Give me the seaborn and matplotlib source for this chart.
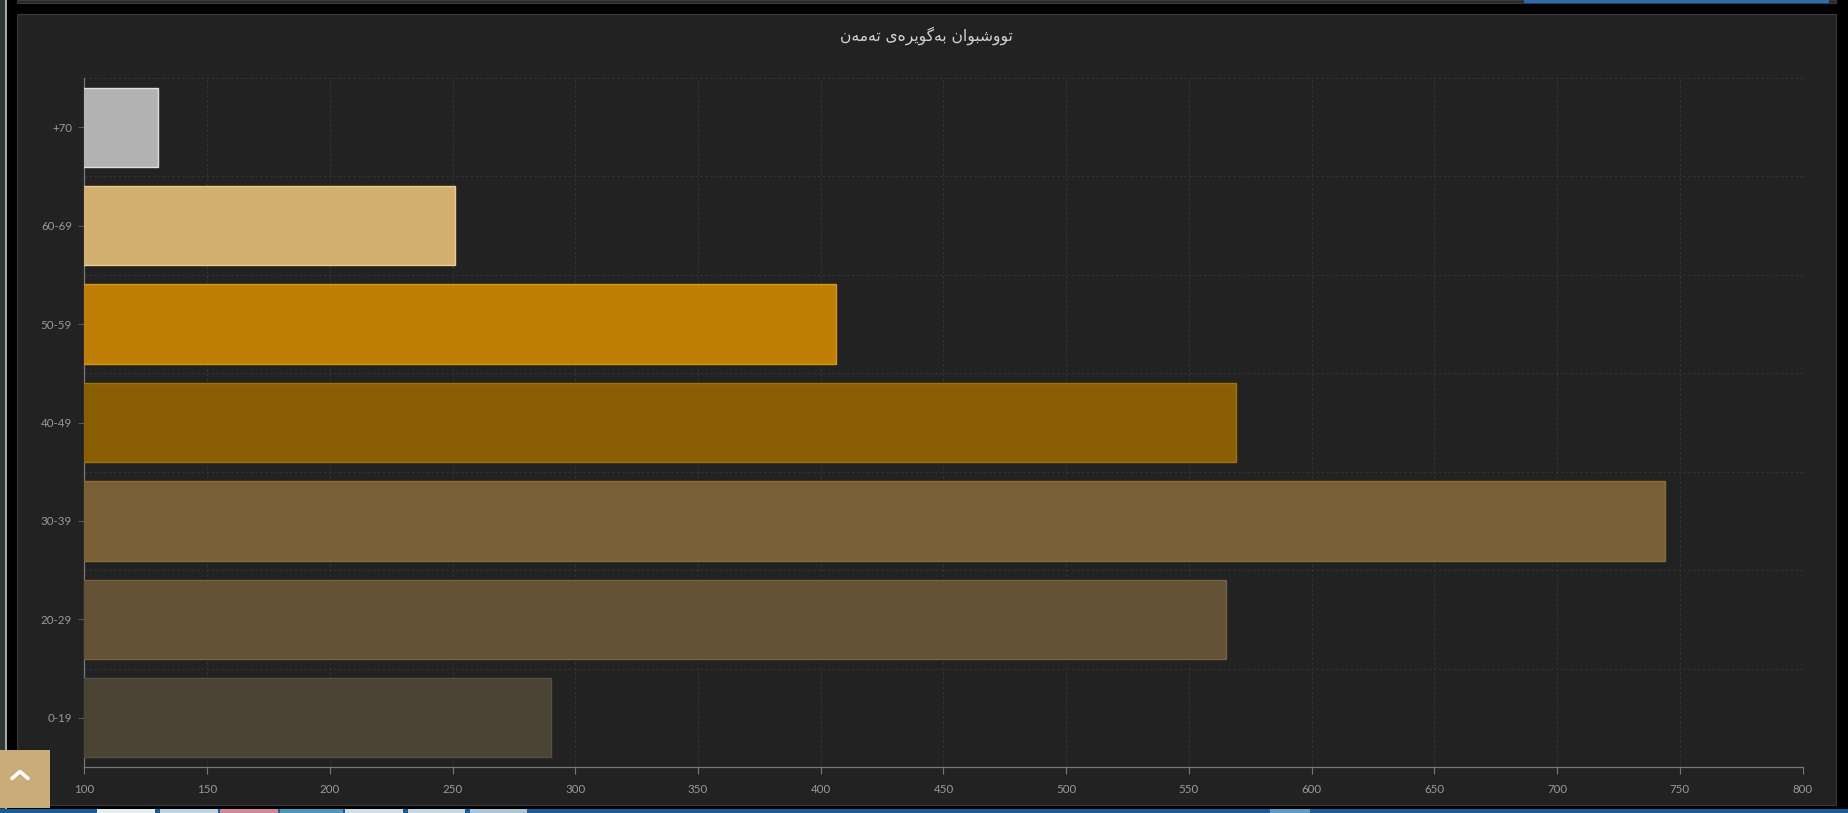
import matplotlib
matplotlib.use("Agg")
import matplotlib.pyplot as plt
import pandas as pd
import seaborn as sns
from matplotlib.lines import Line2D
from matplotlib.patches import Rectangle

age_groups = ["+70", "60-69", "50-59", "40-49", "30-39", "20-29", "0-19"]
cases = [130, 251, 406, 569, 744, 565, 290]
fill_colors = ["#b3b3b3", "#d3b06f", "#bf7f06", "#8a5f04", "#7a6037", "#635236", "#4b4333"]
edge_colors = ["#dedede", "#eccb86", "#d9961a", "#a07508", "#8a6d35", "#75623f", "#55503f"]
x_ticks = [100, 150, 200, 250, 300, 350, 400, 450, 500, 550, 600, 650, 700, 750, 800]

# Kurdish title in display order with joined letter forms: matplotlib does no Arabic shaping
title_words = [
    "\ufe97\ufeee\ufeed\ufeb7\ufe92\ufeee\ufe8d\ufee5",
    "\ufe91\ufeea\ufb94\ufeee\ufef3\ufeae\ufee9\ufbfc",
    "\ufe97\ufeea\ufee3\ufeea\ufee5",
]
title_text = " ".join(w[::-1] for w in reversed(title_words))

W, H = 1849, 813
sns.set_theme(style="dark")
plt.rcParams["font.family"] = ["Lato", "DejaVu Sans"]
fig = plt.figure(figsize=(W / 100, H / 100), dpi=100, facecolor="#000000")


def box(x0, y0, x1, y1, color, edge="none", z=-1):
    fig.add_artist(Rectangle((x0 / W, 1 - y1 / H), (x1 - x0) / W, (y1 - y0) / H,
                             transform=fig.transFigure, facecolor=color,
                             edgecolor=edge, linewidth=0.8, zorder=z))


# page around the chart
box(0, 0, 5, 809, "#2f3836")
box(5, 0, 7, 809, "#a8a8a8")
box(17, 14, 1836, 805, "#222222", edge="#3a3a3a")
box(17, 0, 1836, 3, "#2a2a2a", edge="#3a3a3a")
box(1524, 0, 1829, 3, "#2a6cb0")
box(1848, 0, 1849, 809, "#e8e8e8")
box(0, 809, W, H, "#1c5c96")
box(1270, 809, 1310, H, "#5f9cc8")
for x0, x1, c in [(97, 155, "#e6eef2"), (160, 218, "#b9d6e2"), (220, 278, "#d08a9c"),
                  (280, 343, "#4f97bd"), (345, 403, "#cfe0e8"), (408, 465, "#c2d9e4"),
                  (470, 527, "#a9c8de")]:
    box(x0, 809, x1, H, c)

ax = fig.add_axes([84.5 / W, 1 - 767 / H, (1802.5 - 84.5) / W, (767 - 78) / H])
ax.set_facecolor("none")

frame = pd.DataFrame({"age": age_groups, "cases": cases})
sns.barplot(data=frame, x="cases", y="age", hue="age", order=age_groups, hue_order=age_groups,
            palette=fill_colors, saturation=1, orient="h", width=0.805, legend=False, ax=ax, zorder=3)
for patch, edge in zip(ax.patches, edge_colors):
    patch.set_edgecolor(edge)
    patch.set_linewidth(1.0)

ax.set_xlim(100, 800)
ax.set_ylim(len(age_groups) - 0.5, -0.5)
ax.set_xlabel("")
ax.set_ylabel("")
ax.set_xticks(x_ticks)
ax.set_yticks(range(len(age_groups)))
ax.set_yticklabels(age_groups)
ax.set_yticks([i - 0.5 for i in range(len(age_groups) + 1)], minor=True)

grid = dict(color="#343434", linewidth=0.8, linestyle=(0, (2.2, 2.2)), zorder=1)
ax.set_axisbelow(True)
ax.grid(True, axis="x", which="major", **grid)
ax.grid(True, axis="y", which="minor", **grid)
ax.grid(False, axis="y", which="major")

for side in ("top", "right"):
    ax.spines[side].set_visible(False)
for side in ("left", "bottom"):
    ax.spines[side].set_visible(True)
    ax.spines[side].set_color("#777777")
    ax.spines[side].set_linewidth(0.9)

ax.tick_params(axis="x", which="major", length=5, width=0.8, color="#777777",
               labelcolor="#9a9a9a", labelsize=8.3, pad=7, bottom=True)
ax.tick_params(axis="y", which="major", length=4.5, width=0.8, color="#555555",
               labelcolor="#9a9a9a", labelsize=8.3, pad=4.5, left=True)
ax.tick_params(axis="y", which="minor", length=0)

fig.text(926 / W, 1 - 36 / H, title_text, ha="center", va="center", color="#d2d2d2",
         fontsize=11.2, family="DejaVu Sans")

# scroll-to-top button
box(0, 750, 50, 808, "#c9ac7a", z=5)
fig.add_artist(Line2D([12 / W, 20 / W, 28 / W],
                      [1 - 778.5 / H, 1 - 771.5 / H, 1 - 778.5 / H],
                      transform=fig.transFigure, color="#ffffff", linewidth=2.6, zorder=6))

fig.savefig("out.png", dpi=100, facecolor=fig.get_facecolor())
